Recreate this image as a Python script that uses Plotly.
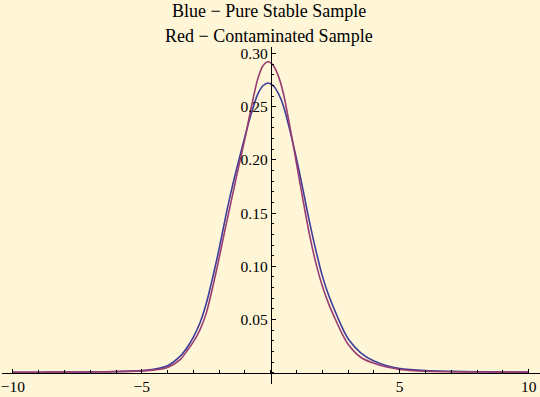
import plotly.graph_objects as go

# ---- data ----
x_vals = [-10, -9, -8, -7, -6, -5, -4.5, -4, -3.5, -3.25, -3, -2.75, -2.5, -2.25, -2,
          -1.75, -1.5, -1.25, -1, -0.75, -0.5, -0.3, -0.1, 0.1, 0.3, 0.5, 0.75, 1,
          1.25, 1.5, 1.75, 2, 2.25, 2.5, 2.75, 3, 3.5, 4, 4.5, 5, 6, 7, 8, 9, 10]

pure_stable = [0.0004, 0.0005, 0.0006, 0.0008, 0.0011, 0.0020, 0.0034, 0.0066, 0.0158, 0.0235,
               0.0335, 0.0465, 0.0650, 0.0895, 0.1165, 0.1465, 0.1740, 0.1985, 0.2220, 0.2440,
               0.2620, 0.2697, 0.2723, 0.2697, 0.2622, 0.2500, 0.2270, 0.2010, 0.1720, 0.1420,
               0.1150, 0.0910, 0.0725, 0.0575, 0.0435, 0.0320, 0.0185, 0.0110, 0.0066, 0.0040,
               0.0020, 0.0013, 0.0009, 0.0007, 0.0006]

contaminated = [0.0004, 0.0005, 0.0006, 0.0007, 0.0010, 0.0017, 0.0027, 0.0050, 0.0125, 0.0205,
                0.0290, 0.0400, 0.0560, 0.0805, 0.1080, 0.1370, 0.1650, 0.1930, 0.2200, 0.2500,
                0.2765, 0.2885, 0.2923, 0.2888, 0.2785, 0.2615, 0.2300, 0.1965, 0.1625, 0.1300,
                0.1030, 0.0815, 0.0645, 0.0505, 0.0375, 0.0268, 0.0143, 0.0088, 0.0053, 0.0031,
                0.0014, 0.0009, 0.0007, 0.0006, 0.0005]

x_tick_vals = [-10, -5, 5, 10]
x_tick_text = ["\u221210", "\u22125", "5", "10"]
y_tick_vals = [0.05, 0.10, 0.15, 0.20, 0.25, 0.30]
y_tick_text = ["0.05", "0.10", "0.15", "0.20", "0.25", "0.30"]

title_lines = ["Blue \u2212 Pure Stable Sample", "Red \u2212 Contaminated Sample"]

# ---- figure ----
BG = "#fff5d7"
BLUE = "rgb(61,61,153)"
RED = "rgb(153,61,113)"
FONT = "Liberation Serif, Times New Roman, serif"

x_range = [-10.42, 10.44]
y_range = [-0.0106, 0.3061]

fig = go.Figure()
fig.add_trace(go.Scatter(x=x_vals, y=pure_stable, mode="lines",
                         line=dict(color=BLUE, width=1.6, shape="spline", smoothing=0.8),
                         hoverinfo="skip"))
fig.add_trace(go.Scatter(x=x_vals, y=contaminated, mode="lines",
                         line=dict(color=RED, width=1.6, shape="spline", smoothing=0.8),
                         hoverinfo="skip"))

fig.update_layout(
    width=540, height=397,
    margin=dict(l=2, r=0, t=47, b=13),
    paper_bgcolor=BG, plot_bgcolor=BG,
    showlegend=False,
    font=dict(family=FONT, size=15, color="black"),
    annotations=[
        dict(text=title_lines[0], x=0.496, y=1.106, xref="paper", yref="paper",
             xanchor="center", yanchor="middle", showarrow=False,
             font=dict(family=FONT, size=18, color="black")),
        dict(text=title_lines[1], x=0.496, y=1.034, xref="paper", yref="paper",
             xanchor="center", yanchor="middle", showarrow=False,
             font=dict(family=FONT, size=18, color="black")),
    ],
)

x_zero_frac = (0 - x_range[0]) / (x_range[1] - x_range[0])
y_zero_frac = (0 - y_range[0]) / (y_range[1] - y_range[0])

fig.update_xaxes(
    range=x_range, anchor="free", position=y_zero_frac,
    showgrid=False, zeroline=False, showline=True, linecolor="black", linewidth=1,
    ticks="inside", ticklen=4, tickwidth=1, tickcolor="black",
    tickmode="array", tickvals=x_tick_vals, ticktext=x_tick_text,
    tickfont=dict(family=FONT, size=15.5, color="black"),
    minor=dict(ticks="inside", ticklen=2.5, tickwidth=1, tickcolor="black", dtick=1, tick0=0),
    fixedrange=True,
)
fig.update_yaxes(
    range=y_range, anchor="free", position=x_zero_frac,
    showgrid=False, zeroline=False, showline=True, linecolor="black", linewidth=1,
    ticks="inside", ticklen=4, tickwidth=1, tickcolor="black",
    tickmode="array", tickvals=y_tick_vals, ticktext=y_tick_text,
    tickfont=dict(family=FONT, size=15.5, color="black"),
    minor=dict(ticks="inside", ticklen=2.5, tickwidth=1, tickcolor="black", dtick=0.01, tick0=0),
    fixedrange=True,
)

fig.write_html("out.html", config={"displayModeBar": False},
               post_script="document.body.style.margin='0';")
